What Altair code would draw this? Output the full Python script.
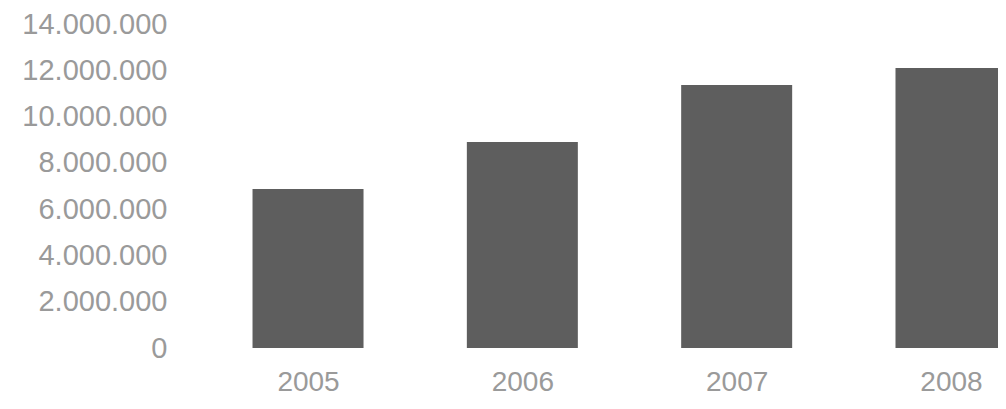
import altair as alt
import pandas as pd

years = [2005, 2006, 2007, 2008]
values = [6_870_000, 8_900_000, 11_360_000, 12_100_000]
y_ticks = [0, 2_000_000, 4_000_000, 6_000_000, 8_000_000, 10_000_000, 12_000_000, 14_000_000]

df = pd.DataFrame({"year": years, "value": values})

label_font = "Liberation Sans"
label_color = "#9a9a9a"

chart = alt.Chart(df).mark_bar(size=111, clip=True, color="#5e5e5e").encode(
    x=alt.X(
        "year:Q",
        scale=alt.Scale(domain=[2004.426, 2008.196], nice=False, zero=False),
        axis=alt.Axis(
            values=years, format="d", title=None, domain=False, ticks=False, grid=False,
            labelFont=label_font, labelFontSize=28, labelColor=label_color,
            labelPadding=20, labelFlush=False,
        ),
    ),
    y=alt.Y(
        "value:Q",
        scale=alt.Scale(domain=[0, 14_000_000], nice=False),
        axis=alt.Axis(
            values=y_ticks, title=None, domain=False, ticks=False, grid=False,
            labelExpr="replace(replace(format(datum.value, ','), ',', '.'), ',', '.')",
            labelFont=label_font, labelFontSize=29, labelColor=label_color,
            labelPadding=13,
        ),
    ),
).properties(
    width=818,
    height=324,
    padding={"left": 172, "top": 16, "right": 0, "bottom": 52},
    autosize="none",
).configure_view(stroke=None)

chart.save("out.html", embed_options={"renderer": "svg", "actions": False})
